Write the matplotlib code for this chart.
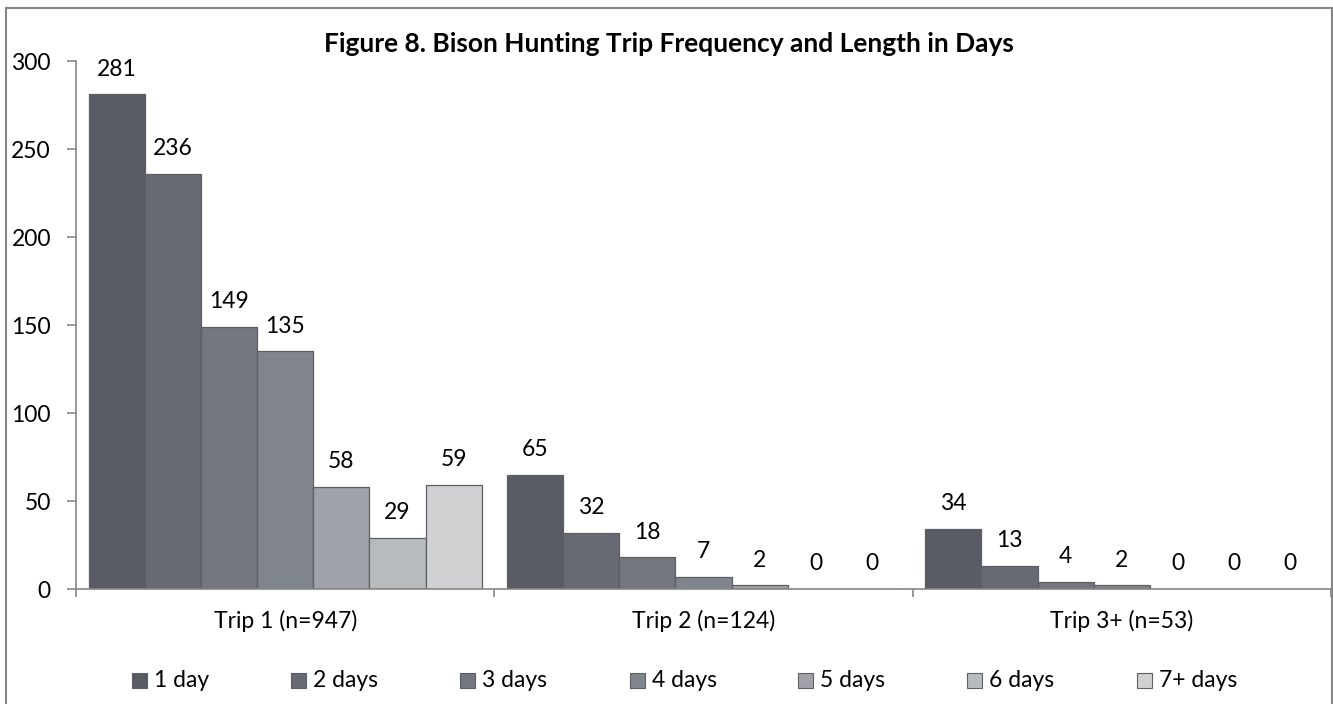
import matplotlib
matplotlib.use("Agg")
import matplotlib.pyplot as plt
from matplotlib.patches import Rectangle
import numpy as np

categories = ["Trip 1 (n=947)", "Trip 2 (n=124)", "Trip 3+ (n=53)"]
series = ["1 day", "2 days", "3 days", "4 days", "5 days", "6 days", "7+ days"]
values = {
    "1 day":   [281, 65, 34],
    "2 days":  [236, 32, 13],
    "3 days":  [149, 18, 4],
    "4 days":  [135, 7, 2],
    "5 days":  [58, 2, 0],
    "6 days":  [29, 0, 0],
    "7+ days": [59, 0, 0],
}
colors = ["#595c64", "#676a72", "#74777f", "#80858d", "#9fa2a8", "#b8bbbe", "#d0d1d3"]
yticks = [0, 50, 100, 150, 200, 250, 300]
title = "Figure 8. Bison Hunting Trip Frequency and Length in Days"

FONT = "Lato"
FS = 16.5
plt.rcParams["font.family"] = [FONT, "DejaVu Sans"]

W, H = 1333, 704
AX_L, AX_R, AX_T, AX_B = 76, 1331, 61, 589
fig = plt.figure(figsize=(W / 100, H / 100), dpi=100)
ax = fig.add_axes([AX_L / W, (H - AX_B) / H, (AX_R - AX_L) / W, (AX_B - AX_T) / H])

n = len(series)
bw = 0.94 / n
x = np.arange(len(categories))
for i, s in enumerate(series):
    xs = x - 0.47 + bw * (i + 0.5)
    ax.bar(xs, values[s], width=bw, color=colors[i], edgecolor="#5c5f65",
           linewidth=0.9, zorder=3)
    for xi, v in zip(xs, values[s]):
        ax.annotate(str(v), (xi, v), xytext=(0, 13.5), textcoords="offset points",
                    ha="center", va="baseline", fontsize=FS, color="black")

ax.set_xlim(-0.5, len(categories) - 0.5)
ax.set_ylim(0, 300)
ax.set_yticks(yticks)
ax.set_yticklabels([str(t) for t in yticks], fontsize=FS)
ax.set_xticks(x)
ax.set_xticklabels(categories, fontsize=FS)
ax.tick_params(axis="x", length=0, pad=15)
ax.tick_params(axis="y", length=6.5, width=1.2, color="#868686", pad=11.5)
ax.set_xticks(np.arange(-0.5, len(categories), 1.0), minor=True)
ax.tick_params(axis="x", which="minor", length=6, width=1.2, color="#868686")
for sp in ["top", "right"]:
    ax.spines[sp].set_visible(False)
for sp in ["left", "bottom"]:
    ax.spines[sp].set_color("#868686")
    ax.spines[sp].set_linewidth(1.2)
ax.spines["bottom"].set_zorder(4)

fig.text(669 / W, 1 - 52 / H, title, ha="center", va="baseline", fontsize=19,
         fontweight="bold")

# legend
leg_x = [132, 291, 460, 630, 798, 967, 1137]
leg_y = 680.5
sq = 15
for i, s in enumerate(series):
    fig.patches.append(Rectangle((leg_x[i] / W, (H - leg_y - sq / 2) / H), sq / W, sq / H,
                                 transform=fig.transFigure, facecolor=colors[i],
                                 edgecolor="#5c5f65", linewidth=0.8))
    fig.text((leg_x[i] + sq + 7) / W, 1 - leg_y / H, s, ha="left", va="center",
             fontsize=FS)

# outer chart frame
fig.patches.append(Rectangle((6 / W, -0.05), (1332 - 6) / W, 1.05 - 8 / H,
                             transform=fig.transFigure, fill=False,
                             edgecolor="#868686", linewidth=1.5))

fig.savefig("out.png", dpi=100)
